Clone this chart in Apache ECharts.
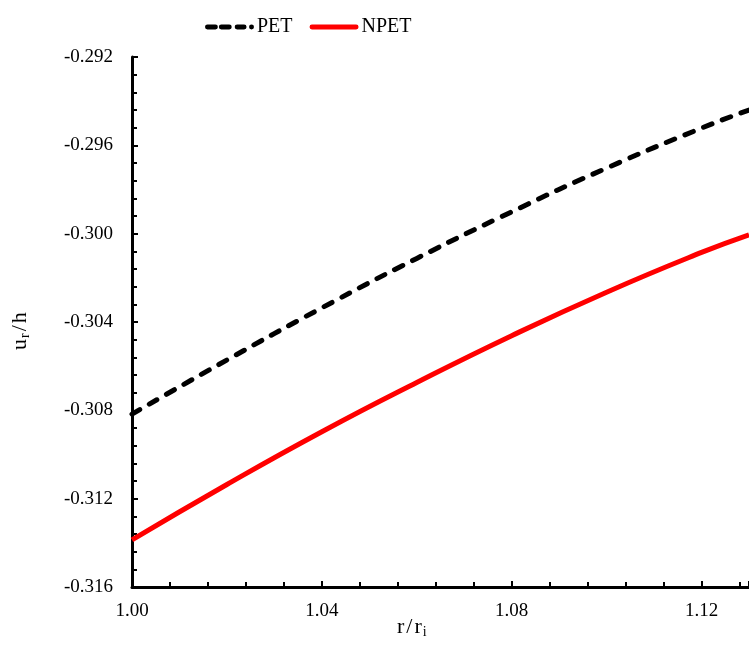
<!DOCTYPE html>
<html>
<head>
<meta charset="utf-8">
<script src="https://cdn.jsdelivr.net/npm/echarts@6/dist/echarts.min.js"></script>
<style>html,body{margin:0;padding:0;background:#fff}#c{width:749px;height:662px}</style>
</head>
<body>
<div id="c"></div>
<script>
var xValues = [1.00, 1.02, 1.04, 1.06, 1.08, 1.10, 1.12, 1.13];
var petValues = [-0.30817, -0.30572, -0.30336, -0.30112, -0.29901, -0.29703, -0.29522, -0.29440];
var npetValues = [-0.31387, -0.31136, -0.30897, -0.30674, -0.30462, -0.30265, -0.30085, -0.30005];
var seriesNames = ['PET', 'NPET'];

var font = 'Liberation Serif, Times New Roman, serif';
function pairs(xs, ys){ return xs.map(function(x,i){ return [x, ys[i]]; }); }

var dashedIcon = 'path://M1,0h8a1,1 0 0 1 0,5h-8a1,1 0 0 1 0,-5z M15,0h8a1,1 0 0 1 0,5h-8a1,1 0 0 1 0,-5z M31,0h7a1,1 0 0 1 0,5h-7a1,1 0 0 1 0,-5z M45.5,0a2.5,2.5 0 0 1 0,5a2.5,2.5 0 0 1 0,-5z M0,0h0.01v0.01H0z M48,5h0.01v0.01H48z';
var solidIcon = 'path://M2,0h46a2.5,2.5 0 0 1 0,5h-46a2.5,2.5 0 0 1 0,-5z M0,0h0.01v0.01H0z';

var titleRich = {
  a: { fontFamily: font, fontSize: 22, fill: '#000', padding: [0, 1, 0, 1] },
  s: { fontFamily: font, fontSize: 14, fill: '#000', verticalAlign: 'bottom', padding: [10, 1, 0, 0] }
};

var chart = echarts.init(document.getElementById('c'));
chart.setOption({
  animation: false,
  backgroundColor: '#fff',
  grid: { left: 132, right: 0, top: 57, bottom: 75, containLabel: false },
  legend: {
    left: 200, top: 12,
    itemWidth: 49, itemHeight: 5, itemGap: 17,
    textStyle: { fontFamily: font, fontSize: 20, color: '#000', padding: [0,0,0,-2] },
    data: [
      { name: seriesNames[0], icon: dashedIcon, itemStyle: { color: '#000' } },
      { name: seriesNames[1], icon: solidIcon, itemStyle: { color: '#ff0000' } }
    ]
  },
  xAxis: {
    type: 'value', min: 1.00, max: 1.13, interval: 0.04,
    axisLine: { show: true, lineStyle: { color: '#000', width: 3 } },
    axisTick: { show: true, inside: true, length: 6, lineStyle: { color: '#000', width: 2 } },
    minorTick: { show: true, splitNumber: 5, length: 5, lineStyle: { color: '#000', width: 2 } },
    splitLine: { show: false },
    axisLabel: { fontFamily: font, fontSize: 19, color: '#000', margin: 15, showMaxLabel: false,
      formatter: function(v){ return v.toFixed(2); } }
  },
  yAxis: {
    type: 'value', min: -0.316, max: -0.292, interval: 0.004,
    axisLine: { show: true, lineStyle: { color: '#000', width: 3 } },
    axisTick: { show: true, inside: true, length: 6, lineStyle: { color: '#000', width: 2 } },
    minorTick: { show: true, splitNumber: 5, length: 5, lineStyle: { color: '#000', width: 2 } },
    splitLine: { show: false },
    axisLabel: { fontFamily: font, fontSize: 19, color: '#000', margin: 19,
      formatter: function(v){ return v.toFixed(3); } }
  },
  graphic: [
    { type: 'text', left: 397, top: 616,
      style: { text: '{a|r}{a|/}{a|r}{s|i}', rich: titleRich } },
    { type: 'text', x: 8, y: 351, rotation: Math.PI/2,
      style: { text: '{a|u}{s|r}{a|/}{a|h}', rich: titleRich } }
  ],
  series: [
    { name: 'PET', type: 'line', smooth: true, showSymbol: false, symbol: 'none',
      data: pairs(xValues, petValues),
      itemStyle: { color: '#000' },
      lineStyle: { color: '#000', width: 5, type: [9, 11], cap: 'round' } },
    { name: 'NPET', type: 'line', smooth: true, showSymbol: false, symbol: 'none',
      data: pairs(xValues, npetValues),
      itemStyle: { color: '#ff0000' },
      lineStyle: { color: '#ff0000', width: 5 } }
  ]
});
</script>
</body>
</html>
